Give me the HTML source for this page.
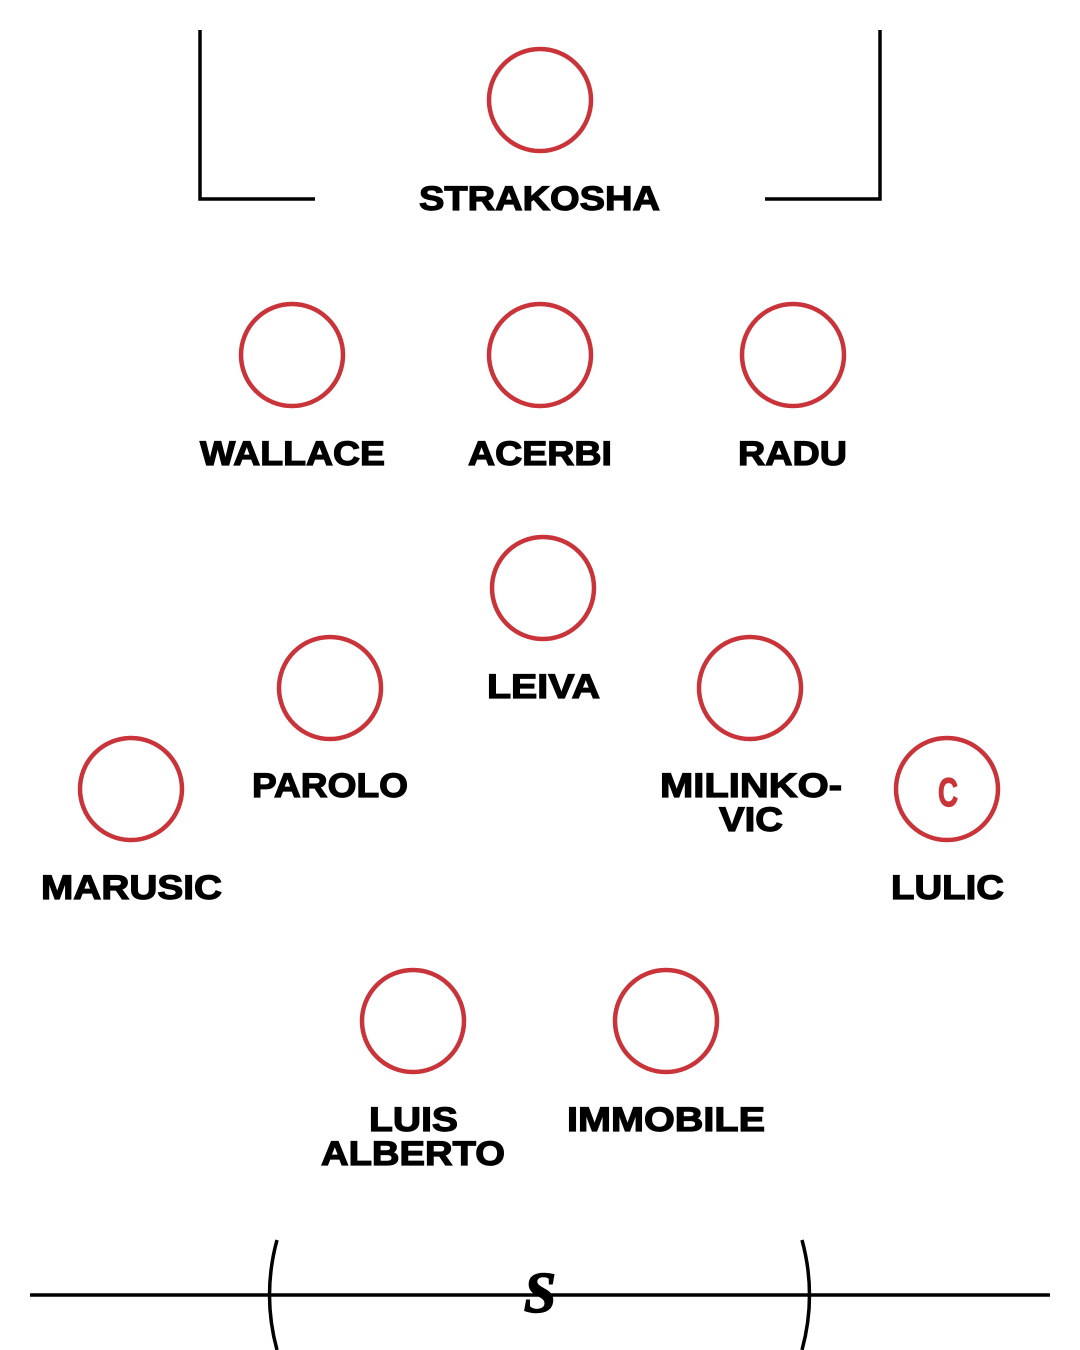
<!DOCTYPE html>
<html><head><meta charset="utf-8"><style>
html,body{margin:0;padding:0;background:#fff;}
svg{display:block;}
text{font-family:"Liberation Sans",Arial,sans-serif;font-weight:bold;font-size:34px;fill:#000;stroke:#000;stroke-width:1.2px;}
</style></head><body>
<svg width="1080" height="1350" viewBox="0 0 1080 1350" xmlns="http://www.w3.org/2000/svg">
<g fill="none" stroke="#000" stroke-width="3.5">
<polyline points="200,30 200,199 315,199"/>
<polyline points="880,30 880,199 765,199"/>
<line x1="30" y1="1295" x2="1050" y2="1295"/>
<path d="M277,1240 Q262,1295 277,1350"/>
<path d="M802,1240 Q817,1295 802,1350"/>
</g>
<g fill="none" stroke="#c9343a" stroke-width="4.5">
<circle cx="540" cy="100" r="51"/>
<circle cx="292" cy="355" r="51"/>
<circle cx="540" cy="355" r="51"/>
<circle cx="793" cy="355" r="51"/>
<circle cx="543" cy="588" r="51"/>
<circle cx="330" cy="688" r="51"/>
<circle cx="750" cy="688" r="51"/>
<circle cx="131" cy="789" r="51"/>
<circle cx="947" cy="789" r="51"/>
<circle cx="413" cy="1021" r="51"/>
<circle cx="666" cy="1021" r="51"/>
</g>
<text x="938" y="806" style="fill:#c9343a;stroke:#c9343a;font-size:40px" textLength="20" lengthAdjust="spacingAndGlyphs">C</text>
<text x="419" y="210" textLength="241" lengthAdjust="spacingAndGlyphs">STRAKOSHA</text>
<text x="200" y="465" textLength="185" lengthAdjust="spacingAndGlyphs">WALLACE</text>
<text x="468" y="465" textLength="144" lengthAdjust="spacingAndGlyphs">ACERBI</text>
<text x="738" y="465" textLength="109" lengthAdjust="spacingAndGlyphs">RADU</text>
<text x="487" y="698" textLength="113" lengthAdjust="spacingAndGlyphs">LEIVA</text>
<text x="252" y="797" textLength="156" lengthAdjust="spacingAndGlyphs">PAROLO</text>
<text x="660" y="797" textLength="182" lengthAdjust="spacingAndGlyphs">MILINKO-</text>
<text x="719" y="831" textLength="64" lengthAdjust="spacingAndGlyphs">VIC</text>
<text x="41" y="899" textLength="181" lengthAdjust="spacingAndGlyphs">MARUSIC</text>
<text x="891" y="899" textLength="113" lengthAdjust="spacingAndGlyphs">LULIC</text>
<text x="369" y="1131" textLength="89" lengthAdjust="spacingAndGlyphs">LUIS</text>
<text x="321" y="1165" textLength="184" lengthAdjust="spacingAndGlyphs">ALBERTO</text>
<text x="567" y="1131" textLength="198" lengthAdjust="spacingAndGlyphs">IMMOBILE</text>
<text x="540" y="1312" text-anchor="middle" style="font-family:'Liberation Serif',serif;font-size:58px;font-style:italic;stroke-width:1.5px">S</text>
</svg>
</body></html>
